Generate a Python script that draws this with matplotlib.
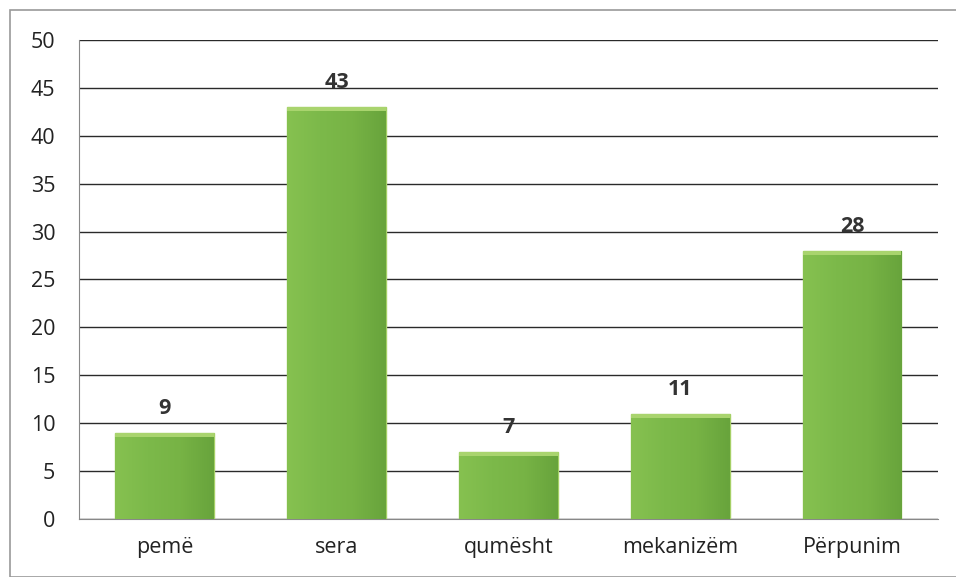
import numpy as np
import matplotlib.pyplot as plt
from matplotlib.patches import Rectangle
from matplotlib.colors import LinearSegmentedColormap

# ── Data ──────────────────────────────────────────────────────────────────────
categories = ["pemë", "sera", "qumësht", "mekanizëm", "Përpunim"]
values = [9, 43, 7, 11, 28]
y_ticks = [0, 5, 10, 15, 20, 25, 30, 35, 40, 45, 50]

# ── Style ─────────────────────────────────────────────────────────────────────
plt.rcParams["font.family"] = ["Open Sans", "DejaVu Sans"]
BAR_GREEN = "#78b445"
GRAD = LinearSegmentedColormap.from_list(
    "bar", ["#86c150", "#7cb94a", "#77b345", "#68a43c"])

fig = plt.figure(figsize=(9.56, 5.77), dpi=100)
fig.patch.set_facecolor("white")
ax = fig.add_axes([0.0826, 0.1005, 0.8984, 0.8302])

xs = np.arange(len(categories))
bars = ax.bar(xs, values, width=0.575, color=BAR_GREEN,
              edgecolor="#a5d066", linewidth=1.0, zorder=3)

# horizontal gradient inside each bar
grad = np.linspace(0, 1, 64).reshape(1, -1)
for b in bars:
    x0, w, h = b.get_x(), b.get_width(), b.get_height()
    im = ax.imshow(grad, cmap=GRAD, aspect="auto", zorder=3.5,
                   extent=(x0, x0 + w, 0, h), interpolation="bicubic")
    im.set_clip_path(b)
    # lighter bevel along the top
    ax.add_patch(Rectangle((x0, h - 0.45), w, 0.45, color="#a9d46e",
                           zorder=4, linewidth=0))

for x, v in zip(xs, values):
    ax.annotate(str(v), (x, v), xytext=(0, 10), textcoords="offset points",
                ha="center", va="bottom", fontsize=15.5, fontweight="bold",
                color="#333333")

ax.set_xlim(-0.5, len(categories) - 0.5)
ax.set_ylim(0, 50)
ax.set_yticks(y_ticks)
ax.set_xticks(xs)
ax.set_xticklabels(categories)
ax.tick_params(axis="both", length=0, labelsize=15.5, colors="#222222")
ax.tick_params(axis="y", pad=17)
ax.tick_params(axis="x", pad=13)

ax.grid(axis="y", color="#2a2a2a", linewidth=1.0, zorder=0)
ax.set_axisbelow(True)
for side in ["top", "right"]:
    ax.spines[side].set_visible(False)
ax.spines["left"].set_color("#888888")
ax.spines["bottom"].set_color("#888888")

# outer chart border
fig.add_artist(Rectangle((10 / 956, 0), 1, 1 - 10 / 577,
                         transform=fig.transFigure, fill=False,
                         edgecolor="#9a9a9a", linewidth=1.2))

fig.savefig("out.png", dpi=100)
